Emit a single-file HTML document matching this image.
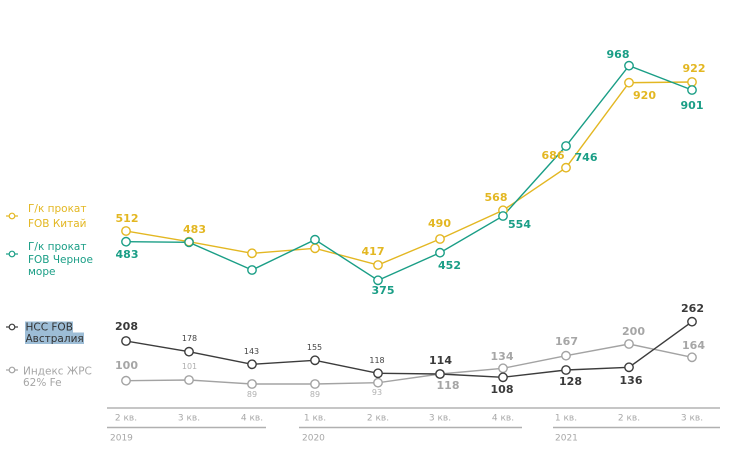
<!DOCTYPE html>
<html><head><meta charset="utf-8"><style>
html,body{margin:0;padding:0;background:#fff;}
svg{display:block;}
text{font-family:"DejaVu Sans","Liberation Sans",sans-serif;}
.b{font-weight:bold;font-size:11px;text-anchor:middle;}
.s{font-size:8px;text-anchor:middle;}
.t{font-size:9px;fill:#a8a8a8;text-anchor:middle;}
.y{font-size:9px;fill:#a8a8a8;}
.lg{font-size:10.5px;}
</style></head><body>
<svg width="733" height="455" viewBox="0 0 733 455" xmlns="http://www.w3.org/2000/svg">
<rect width="733" height="455" fill="#fff"/>
<!-- axis -->
<line x1="107" y1="408" x2="720" y2="408" stroke="#c6c6c6" stroke-width="2"/>
<g stroke="#b0b0b0" stroke-width="1.5">
<line x1="107" y1="427.5" x2="266" y2="427.5"/>
<line x1="299" y1="427.5" x2="522" y2="427.5"/>
<line x1="553" y1="427.5" x2="720" y2="427.5"/>
</g>
<g class="t">
<text x="126" y="420.3">2 кв.</text><text x="189" y="420.3">3 кв.</text><text x="252" y="420.3">4 кв.</text>
<text x="315" y="420.3">1 кв.</text><text x="378" y="420.3">2 кв.</text><text x="440" y="420.3">3 кв.</text>
<text x="503" y="420.3">4 кв.</text><text x="566" y="420.3">1 кв.</text><text x="629" y="420.3">2 кв.</text>
<text x="692" y="420.3">3 кв.</text>
</g>
<text class="y" x="110" y="440.3">2019</text>
<text class="y" x="302" y="440.3">2020</text>
<text class="y" x="555" y="440.3">2021</text>

<!-- series lines -->
<g fill="none" stroke-width="1.4">
<polyline stroke="#a3a3a3" points="126,380.7 189,380 252,384 315,384 378,382.7 440,374 503,368.3 566,355.7 629,344 692,357.3"/>
<polyline stroke="#3c3c3c" points="126,341 189,351.7 252,364.3 315,360.3 378,373.3 440,374 503,377.3 566,370 629,367.3 692,321.7"/>
<polyline stroke="#e3b722" points="126,231 189,241.7 252,253.3 315,248.3 378,265 440,239 503,210.3 566,167.7 629,82.7 692,82"/>
<polyline stroke="#1a9e86" points="126,241.7 189,242.3 252,270 315,239.7 378,280.3 440,252.7 503,216 566,146 629,65.7 692,90"/>
</g>
<!-- markers -->
<g fill="#fff" stroke-width="1.4">
<g stroke="#a3a3a3">
<circle cx="126" cy="380.7" r="4.2"/><circle cx="189" cy="380" r="4.2"/><circle cx="252" cy="384" r="4.2"/><circle cx="315" cy="384" r="4.2"/><circle cx="378" cy="382.7" r="4.2"/><circle cx="440" cy="374" r="4.2"/><circle cx="503" cy="368.3" r="4.2"/><circle cx="566" cy="355.7" r="4.2"/><circle cx="629" cy="344" r="4.2"/><circle cx="692" cy="357.3" r="4.2"/>
</g>
<g stroke="#3c3c3c">
<circle cx="126" cy="341" r="4.2"/><circle cx="189" cy="351.7" r="4.2"/><circle cx="252" cy="364.3" r="4.2"/><circle cx="315" cy="360.3" r="4.2"/><circle cx="378" cy="373.3" r="4.2"/><circle cx="440" cy="374" r="4.2" fill="none"/><circle cx="503" cy="377.3" r="4.2"/><circle cx="566" cy="370" r="4.2"/><circle cx="629" cy="367.3" r="4.2"/><circle cx="692" cy="321.7" r="4.2"/>
</g>
<g stroke="#e3b722">
<circle cx="126" cy="231" r="4.2"/><circle cx="189" cy="241.7" r="4.2"/><circle cx="252" cy="253.3" r="4.2"/><circle cx="315" cy="248.3" r="4.2"/><circle cx="378" cy="265" r="4.2"/><circle cx="440" cy="239" r="4.2"/><circle cx="503" cy="210.3" r="4.2"/><circle cx="566" cy="167.7" r="4.2"/><circle cx="629" cy="82.7" r="4.2"/><circle cx="692" cy="82" r="4.2"/>
</g>
<g stroke="#1a9e86">
<circle cx="126" cy="241.7" r="4.2"/><circle cx="189" cy="242.3" r="4.2" fill="none"/><circle cx="252" cy="270" r="4.2"/><circle cx="315" cy="239.7" r="4.2"/><circle cx="378" cy="280.3" r="4.2"/><circle cx="440" cy="252.7" r="4.2"/><circle cx="503" cy="216" r="4.2"/><circle cx="566" cy="146" r="4.2"/><circle cx="629" cy="65.7" r="4.2"/><circle cx="692" cy="90" r="4.2"/>
</g>
</g>

<!-- labels yellow -->
<g class="b" fill="#e3b722">
<text x="127" y="222">512</text><text x="194.5" y="233">483</text><text x="373" y="255">417</text>
<text x="439.5" y="227">490</text><text x="496" y="201">568</text><text x="553" y="159">686</text>
<text x="644.5" y="99">920</text><text x="694" y="72">922</text>
</g>
<!-- labels teal -->
<g class="b" fill="#1a9e86">
<text x="127" y="258">483</text><text x="383" y="294">375</text><text x="449.5" y="269">452</text>
<text x="519.5" y="228">554</text><text x="586" y="161">746</text><text x="618" y="58">968</text>
<text x="692" y="109">901</text>
</g>
<!-- labels dark -->
<g class="b" fill="#3a3a3a">
<text x="126.5" y="330">208</text><text x="440.5" y="364">114</text><text x="502" y="393">108</text>
<text x="570.5" y="385">128</text><text x="631" y="384">136</text><text x="692.5" y="312">262</text>
</g>
<g class="s" fill="#444">
<text x="189.5" y="341">178</text><text x="251.5" y="354">143</text><text x="314.5" y="350">155</text><text x="377" y="363">118</text>
</g>
<!-- labels gray -->
<g class="b" fill="#a6a6a6">
<text x="126.5" y="369">100</text><text x="448" y="389">118</text><text x="502" y="360">134</text>
<text x="566.5" y="345">167</text><text x="633.5" y="335">200</text><text x="693.5" y="349">164</text>
</g>
<g class="s" fill="#b0b0b0">
<text x="189.5" y="369">101</text><text x="252" y="397">89</text><text x="315" y="397">89</text><text x="377" y="395">93</text>
</g>

<!-- legend -->
<g stroke-width="1.2" fill="#fff">
<line x1="6" y1="216" x2="18" y2="216" stroke="#e3b722"/><circle cx="12" cy="216" r="2.8" stroke="#e3b722"/>
<line x1="6" y1="254" x2="18" y2="254" stroke="#1a9e86"/><circle cx="12" cy="254" r="2.8" stroke="#1a9e86"/>
<line x1="6" y1="327" x2="18" y2="327" stroke="#3c3c3c"/><circle cx="12" cy="327" r="2.8" stroke="#3c3c3c"/>
<line x1="6" y1="370" x2="18" y2="370" stroke="#a3a3a3"/><circle cx="12" cy="370" r="2.8" stroke="#a3a3a3"/>
</g>
<g class="lg" fill="#e3b722">
<text x="28" y="212">Г/к прокат</text>
<text x="28" y="227">FOB Китай</text>
</g>
<g class="lg" fill="#1a9e86">
<text x="28" y="250">Г/к прокат</text>
<text x="28" y="263">FOB Черное</text>
<text x="28" y="275">море</text>
</g>
<rect x="25" y="321.5" width="48" height="11" fill="#9dbdd6"/>
<rect x="25" y="332.5" width="59" height="11.5" fill="#9dbdd6"/>
<g class="lg" fill="#333">
<text x="25.5" y="330.5">НСС FOB</text>
<text x="25.5" y="342">Австралия</text>
</g>
<g class="lg" fill="#a6a6a6">
<text x="23" y="374.5">Индекс ЖРС</text>
<text x="23" y="386">62% Fe</text>
</g>
</svg>
</body></html>
